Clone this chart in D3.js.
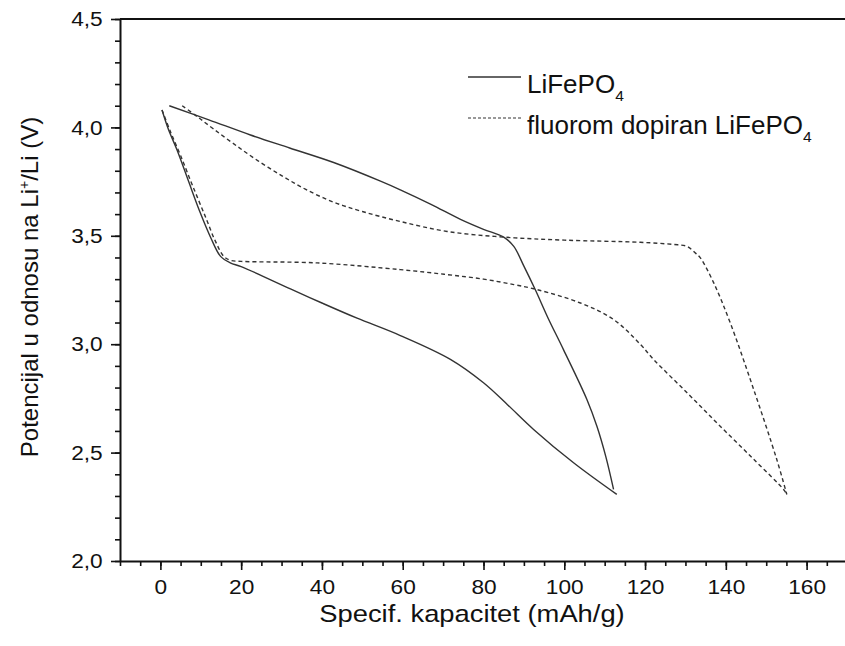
<!DOCTYPE html>
<html>
<head>
<meta charset="utf-8">
<script src="https://cdn.jsdelivr.net/npm/d3@7"></script>
<style>
  body { margin: 0; background: #fff; }
  svg text { font-family: "Liberation Sans", Arial, sans-serif; fill: #111; }
</style>
</head>
<body>
<div id="content"></div>
<script>
// capacity (mAh/g), potential (V)
let pureCharge = [
    [2.2, 4.10], [12, 4.035], [22.3, 3.965], [32, 3.905], [42.9, 3.838], [54.5, 3.752],
    [59.4, 3.712], [67, 3.645], [74.3, 3.576], [80, 3.53], [85, 3.494], [87.5, 3.451],
    [90, 3.36], [92.8, 3.252], [96, 3.12], [99.8, 2.975], [105.6, 2.745], [108.1, 2.62],
    [110.3, 2.48], [112.2, 2.33]
];
let pureDischarge = [
    [0.4, 4.08], [2, 3.99], [4.1, 3.897], [7, 3.75], [9.9, 3.605], [12.5, 3.49], [14.9, 3.405],
    [17.3, 3.375], [20, 3.358], [32.2, 3.255], [40, 3.19], [48.7, 3.12], [59.4, 3.04],
    [71.8, 2.93], [80, 2.822], [86, 2.72], [92.4, 2.607], [102.3, 2.453], [113, 2.307]
];
let dopedCharge = [
    [5.4, 4.10], [9.1, 4.05], [13, 3.995], [18.1, 3.925], [24, 3.848], [30.5, 3.772],
    [36, 3.714], [42.9, 3.655], [50, 3.612], [59.4, 3.566], [71, 3.52], [85, 3.494],
    [100, 3.48], [118.8, 3.47], [127, 3.46], [130.4, 3.451], [132.5, 3.42], [133.7, 3.398],
    [137, 3.283], [141.1, 3.098], [146.9, 2.791], [152.6, 2.469], [155.1, 2.307]
];
let dopedDischarge = [
    [0.4, 4.08], [2.5, 3.98], [5, 3.87], [8, 3.73], [11.1, 3.59], [13.5, 3.48], [15.7, 3.405],
    [17.3, 3.387], [20, 3.382], [38.8, 3.375], [59.4, 3.344], [71, 3.321], [80, 3.30],
    [87.5, 3.275], [93.2, 3.252], [104, 3.19], [112.2, 3.114], [118.8, 3.0], [122.1, 2.93],
    [130.4, 2.776], [138.6, 2.622], [146.9, 2.469], [154.3, 2.33], [155, 2.31]
];

let xMajor = [0, 20, 40, 60, 80, 100, 120, 140, 160];
let xMinor = d3.range(-10, 171, 5);
let yMajor = [2.0, 2.5, 3.0, 3.5, 4.0, 4.5];
let yMinor = d3.range(20, 46, 1).map(d => d / 10);

let legendLabels = ["LiFePO", "fluorom dopiran LiFePO"];

let width = 845,
    height = 646;

// the source text is a bit wider than plain Arial
let stretch = 1.08;

let svg = d3.select("#content")
    .append("svg")
    .attr("width", width)
    .attr("height", height);

let x = d3.scaleLinear().domain([-10, 170]).range([120, 847]);
let y = d3.scaleLinear().domain([2, 4.5]).range([561, 19]);

let commaFmt = d => d3.format(".1f")(d).replace(".", ",");

// minor ticks first, then the major ones with labels
svg.append("g")
    .attr("transform", "translate(0," + y(2) + ")")
    .call(d3.axisBottom(x).tickValues(xMinor).tickSize(5).tickFormat(""))
    .call(g => g.select(".domain").remove());

let xAxis = svg.append("g")
    .attr("transform", "translate(0," + y(2) + ")")
    .call(d3.axisBottom(x).tickValues(xMajor).tickSize(9).tickPadding(9).tickSizeOuter(0));

svg.append("g")
    .attr("transform", "translate(" + x(-10) + ",0)")
    .call(d3.axisLeft(y).tickValues(yMinor).tickSize(5).tickFormat(""))
    .call(g => g.select(".domain").remove());

let yAxis = svg.append("g")
    .attr("transform", "translate(" + x(-10) + ",0)")
    .call(d3.axisLeft(y).tickValues(yMajor).tickSize(9).tickPadding(7).tickSizeOuter(0).tickFormat(commaFmt));

svg.selectAll("g").attr("font-size", null).attr("font-family", null);
svg.selectAll(".tick line").attr("stroke", "#111").attr("stroke-width", 1.6);
svg.selectAll(".domain").attr("stroke", "#111").attr("stroke-width", 2);
svg.selectAll(".tick text")
    .style("font-size", "21px")
    .attr("transform", "scale(" + stretch + ",1)");

// top and right frame lines
svg.append("line")
    .attr("x1", x(-10)).attr("x2", x(170))
    .attr("y1", y(4.5)).attr("y2", y(4.5))
    .attr("stroke", "#111").attr("stroke-width", 2);
svg.append("line")
    .attr("x1", x(170)).attr("x2", x(170))
    .attr("y1", y(4.5)).attr("y2", y(2))
    .attr("stroke", "#111").attr("stroke-width", 2);

// axis titles
svg.append("text")
    .attr("transform", "translate(472,622) scale(1.14,1)")
    .attr("text-anchor", "middle")
    .style("font-size", "24px")
    .text("Specif. kapacitet (mAh/g)");

let yTitle = svg.append("text")
    .attr("transform", "translate(38,287) rotate(-90)")
    .attr("text-anchor", "middle")
    .style("font-size", "24px");
yTitle.append("tspan").text("Potencijal u odnosu na Li");
yTitle.append("tspan").attr("dy", -9).style("font-size", "14px").text("+");
yTitle.append("tspan").attr("dy", 9).text("/Li (V)");

// curves
let line = d3.line()
    .x(d => x(d[0]))
    .y(d => y(d[1]))
    .curve(d3.curveCatmullRom.alpha(0.5));

let curves = [
    { data: pureCharge, dash: null },
    { data: pureDischarge, dash: null },
    { data: dopedCharge, dash: "4,3" },
    { data: dopedDischarge, dash: "4,3" }
];

svg.selectAll(".curve")
    .data(curves)
    .enter()
    .append("path")
    .attr("class", "curve")
    .attr("d", d => line(d.data))
    .attr("fill", "none")
    .attr("stroke", "#333")
    .attr("stroke-width", 1.4)
    .attr("stroke-dasharray", d => d.dash);

// legend
let legend = svg.append("g");
let legendY = [77, 118];
legendLabels.forEach((lab, i) => {
    legend.append("line")
        .attr("x1", 468).attr("x2", 521)
        .attr("y1", legendY[i]).attr("y2", legendY[i])
        .attr("stroke", "#333")
        .attr("stroke-width", i === 0 ? 1.4 : 1.1)
        .attr("stroke-dasharray", i === 0 ? null : "3,2");
    let t = legend.append("text")
        .attr("transform", "translate(527," + (legendY[i] + 16) + ") scale(1.04,1)")
        .style("font-size", "25px");
    t.append("tspan").text(lab);
    t.append("tspan").attr("dy", 8).style("font-size", "15px").text("4");
});
</script>
</body>
</html>
